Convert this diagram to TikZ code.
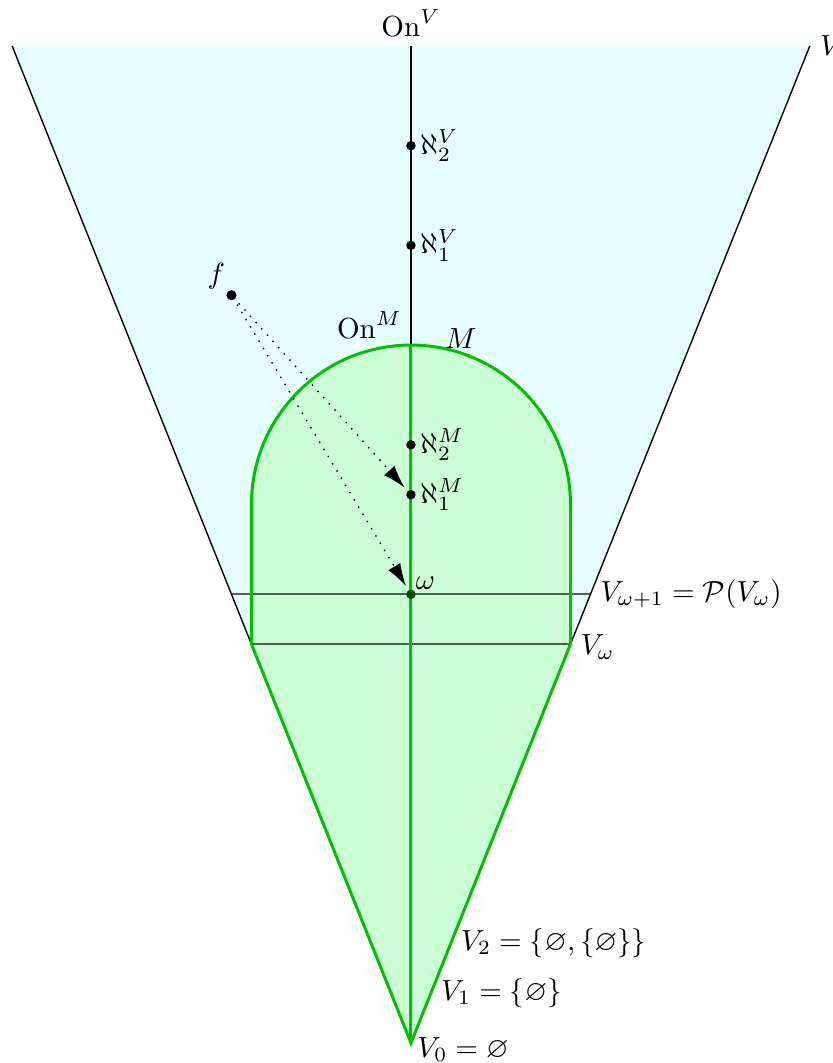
\documentclass[tikz,border=0pt]{standalone}
\usepackage{amsmath,amssymb}
\usetikzlibrary{arrows.meta}
\definecolor{skyfill}{RGB}{230,255,255}
\definecolor{mfill}{RGB}{204,255,214}
\definecolor{mline}{RGB}{0,192,0}
\begin{document}
\begin{tikzpicture}[x=1cm,y=1cm,
  every node/.style={scale=0.83},
  dotnode/.style={circle,fill=black,inner sep=0pt,minimum size=3.25pt},
  lbl/.style={inner sep=1.2pt},
  mstroke/.style={draw=mline,line width=0.85pt},
  level/.style={draw=black,draw opacity=0.62,line width=0.55pt},
  fmap/.style={dotted,-{Latex[length=6.5pt,width=4pt]},shorten >=1.2pt,shorten <=1.5pt}]
\useasboundingbox (-4.122,-0.2006) rectangle (4.232,10.461);
% V cone
\coordinate (apex) at (0,0);
\coordinate (vl) at (-4,10);
\coordinate (vr) at (4,10);
\fill[skyfill] (apex) -- (vl) -- (vr) -- cycle;
\draw[line width=0.4pt] (vl) -- (apex) -- (vr);
% On^V axis
\coordinate (onv) at (0,10);
\coordinate (onm) at (0,7);
\draw[line width=0.45pt] (onm) -- (onv);
% M region
\coordinate (wl) at (-1.6,4);
\coordinate (wr) at (1.6,4);
\fill[mfill] (apex) -- (wl) -- (-1.6,5.4) arc[start angle=180,end angle=0,radius=1.6] -- (wr) -- cycle;
% levels
\coordinate (w1l) at (-1.8,4.5);
\coordinate (w1r) at (1.8,4.5);
\draw[level] (w1l) -- (w1r);
\draw[level] (wl) -- (wr);
\draw[mstroke] (apex) -- (wl) -- (-1.6,5.4) arc[start angle=180,end angle=0,radius=1.6] -- (wr) -- cycle;
\draw[mstroke] (apex) -- (onm);
% points
\node[dotnode] (a2V) at (0,9) {};
\node[dotnode] (a1V) at (0,8) {};
\node[dotnode] (a2M) at (0,6) {};
\node[dotnode] (a1M) at (0,5.5) {};
\node[dotnode,fill=black!60!mline] (om) at (0,4.5) {};
\node[dotnode,minimum size=3.5pt] (f) at (-1.8,7.5) {};
% arrows
\draw[fmap] (f) -- (a1M);
\draw[fmap] (f) -- (om);
% labels
\node[lbl,right] (la2V) at (a2V.east) {$\aleph_2^V$};
\node[lbl,right] (la1V) at (a1V.east) {$\aleph_1^V$};
\node[lbl,right] (la2M) at (a2M.east) {$\aleph_2^M$};
\node[lbl,right] (la1M) at (a1M.east) {$\aleph_1^M$};
\node[above right,inner sep=1.5pt] (lom) at (om) {$\omega$};
\node[above left,inner sep=2pt] (lf) at (f) {$f$};
\node[above left,inner sep=2pt,xshift=-1pt] (onmlbl) at (onm) {$\mathrm{On}^M$};
\node (mlbl) at (0.50,7.07) {$M$};
\node[above,inner sep=3pt] (onvlbl) at (onv) {$\mathrm{On}^V$};
\node[right] (vlbl) at (vr) {$V$};
\node[right] (lw1) at (w1r) {$V_{\omega+1}=\mathcal{P}(V_\omega)$};
\node[right,yshift=-1pt] (lw) at (wr) {$V_\omega$};
\node[right] (lv2) at (0.4,1) {$V_2=\{\varnothing,\{\varnothing\}\}$};
\node[right] (lv1) at (0.2,0.5) {$V_1=\{\varnothing\}$};
\node[anchor=west,inner sep=2pt,yshift=-2.3pt] (lv0) at (apex) {$V_0=\varnothing$};
\end{tikzpicture}
\end{document}
